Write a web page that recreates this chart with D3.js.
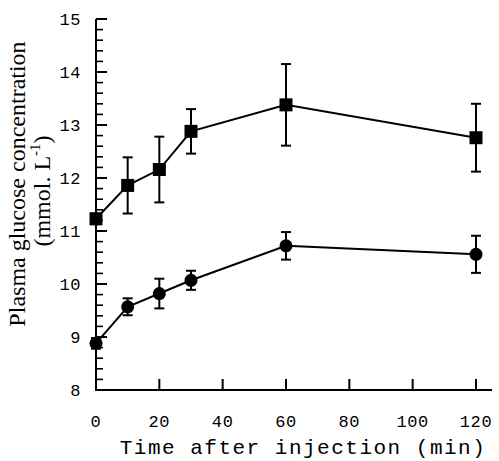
<!DOCTYPE html>
<html>
<head>
<meta charset="utf-8">
<script src="https://cdn.jsdelivr.net/npm/d3@7"></script>
<style>
  body { margin: 0; background: #fff; }
  svg { display: block; }
</style>
</head>
<body>
<svg id="chart" width="499" height="461"></svg>
<script>
// sampling times (min)
var times = [0, 10, 20, 30, 60, 120];
// upper series (squares): mean and error
var squareMean = [11.23, 11.86, 12.16, 12.88, 13.38, 12.76];
var squareErr = [0.1, 0.53, 0.62, 0.42, 0.77, 0.64];
// lower series (circles): mean and error
var circleMean = [8.88, 9.57, 9.82, 10.07, 10.72, 10.56];
var circleErr = [0.1, 0.16, 0.28, 0.18, 0.26, 0.35];

var xTicks = [0, 20, 40, 60, 80, 100, 120];
var yTicks = [8, 9, 10, 11, 12, 13, 14, 15];

var MONO = 'Liberation Mono, Courier New, monospace';
var SERIF = 'Liberation Serif, Times New Roman, serif';

var svg = d3.select('#chart');

var x = d3.scaleLinear().domain([0, 120]).range([96, 476]);
var y = d3.scaleLinear().domain([8, 15]).range([390, 19]);

var axisG = svg.append('g');

// axis lines
axisG.append('line')
  .attr('x1', x(0)).attr('x2', x(0))
  .attr('y1', y(15)).attr('y2', y(8))
  .attr('stroke', '#000').attr('stroke-width', 2);
axisG.append('line')
  .attr('x1', x(0) - 1).attr('x2', 492)
  .attr('y1', y(8)).attr('y2', y(8))
  .attr('stroke', '#000').attr('stroke-width', 2);

// y minor ticks every 0.2
var yMinor = d3.range(8, 15.001, 0.2).map(function(v) { return Math.round(v * 10) / 10; })
  .filter(function(v) { return yTicks.indexOf(v) < 0; });
axisG.selectAll('line.yminor')
  .data(yMinor)
  .enter().append('line')
  .attr('class', 'yminor')
  .attr('x1', x(0)).attr('x2', x(0) + 7)
  .attr('y1', function(d) { return y(d); })
  .attr('y2', function(d) { return y(d); })
  .attr('stroke', '#000').attr('stroke-width', 1.6);

// y major ticks
axisG.selectAll('line.ymajor')
  .data(yTicks.filter(function(v) { return v > 8; }))
  .enter().append('line')
  .attr('class', 'ymajor')
  .attr('x1', x(0)).attr('x2', x(0) + 11)
  .attr('y1', function(d) { return y(d); })
  .attr('y2', function(d) { return y(d); })
  .attr('stroke', '#000').attr('stroke-width', 2);

axisG.selectAll('text.ylab')
  .data(yTicks)
  .enter().append('text')
  .attr('class', 'ylab')
  .attr('x', 81)
  .attr('y', function(d) { return y(d) + 6; })
  .attr('text-anchor', 'end')
  .attr('font-family', MONO)
  .attr('font-size', 17)
  .attr('letter-spacing', 0.6)
  .text(function(d) { return d; });

// x major ticks
axisG.selectAll('line.xmajor')
  .data(xTicks.filter(function(v) { return v > 0; }))
  .enter().append('line')
  .attr('class', 'xmajor')
  .attr('x1', function(d) { return x(d); })
  .attr('x2', function(d) { return x(d); })
  .attr('y1', y(8)).attr('y2', y(8) - 11)
  .attr('stroke', '#000').attr('stroke-width', 2);

axisG.selectAll('text.xlab')
  .data(xTicks)
  .enter().append('text')
  .attr('class', 'xlab')
  .attr('x', function(d) { return x(d); })
  .attr('y', 427)
  .attr('text-anchor', 'middle')
  .attr('font-family', MONO)
  .attr('font-size', 17)
  .attr('letter-spacing', 0.6)
  .text(function(d) { return d; });

// axis titles
svg.append('text')
  .attr('x', 303).attr('y', 454)
  .attr('text-anchor', 'middle')
  .attr('font-family', MONO)
  .attr('font-size', 21)
  .attr('letter-spacing', 1.5)
  .text('Time after injection (min)');

svg.append('text')
  .attr('transform', 'translate(25,184) rotate(-90)')
  .attr('text-anchor', 'middle')
  .attr('font-family', SERIF)
  .attr('font-size', 24)
  .text('Plasma glucose concentration');

var unit = svg.append('text')
  .attr('transform', 'translate(50,191) rotate(-90)')
  .attr('text-anchor', 'middle')
  .attr('font-family', SERIF)
  .attr('font-size', 24);
unit.append('tspan').text('(mmol. L');
unit.append('tspan').attr('font-size', 15).attr('dy', -10).text('-1');
unit.append('tspan').attr('dy', 10).text(')');

// series
function drawSeries(means, errs, shape) {
  var pts = times.map(function(t, i) { return { t: t, m: means[i], e: errs[i] }; });
  var g = svg.append('g');

  g.append('path')
    .datum(pts)
    .attr('fill', 'none')
    .attr('stroke', '#000')
    .attr('stroke-width', 2)
    .attr('d', d3.line().x(function(d) { return x(d.t); }).y(function(d) { return y(d.m); }));

  var eb = g.selectAll('g.err').data(pts).enter().append('g').attr('class', 'err');
  eb.append('line')
    .attr('x1', function(d) { return x(d.t); })
    .attr('x2', function(d) { return x(d.t); })
    .attr('y1', function(d) { return y(d.m + d.e); })
    .attr('y2', function(d) { return y(d.m - d.e); })
    .attr('stroke', '#000').attr('stroke-width', 2);
  [1, -1].forEach(function(s) {
    eb.append('line')
      .attr('x1', function(d) { return x(d.t) - 5; })
      .attr('x2', function(d) { return x(d.t) + 5; })
      .attr('y1', function(d) { return y(d.m + s * d.e); })
      .attr('y2', function(d) { return y(d.m + s * d.e); })
      .attr('stroke', '#000').attr('stroke-width', 2);
  });

  if (shape === 'square') {
    g.selectAll('rect.pt').data(pts).enter().append('rect')
      .attr('class', 'pt')
      .attr('x', function(d) { return x(d.t) - 6.5; })
      .attr('y', function(d) { return y(d.m) - 6.5; })
      .attr('width', 13).attr('height', 13)
      .attr('fill', '#000');
  } else {
    g.selectAll('circle.pt').data(pts).enter().append('circle')
      .attr('class', 'pt')
      .attr('cx', function(d) { return x(d.t); })
      .attr('cy', function(d) { return y(d.m); })
      .attr('r', 6.5)
      .attr('fill', '#000');
  }
}

drawSeries(squareMean, squareErr, 'square');
drawSeries(circleMean, circleErr, 'circle');
</script>
</body>
</html>
